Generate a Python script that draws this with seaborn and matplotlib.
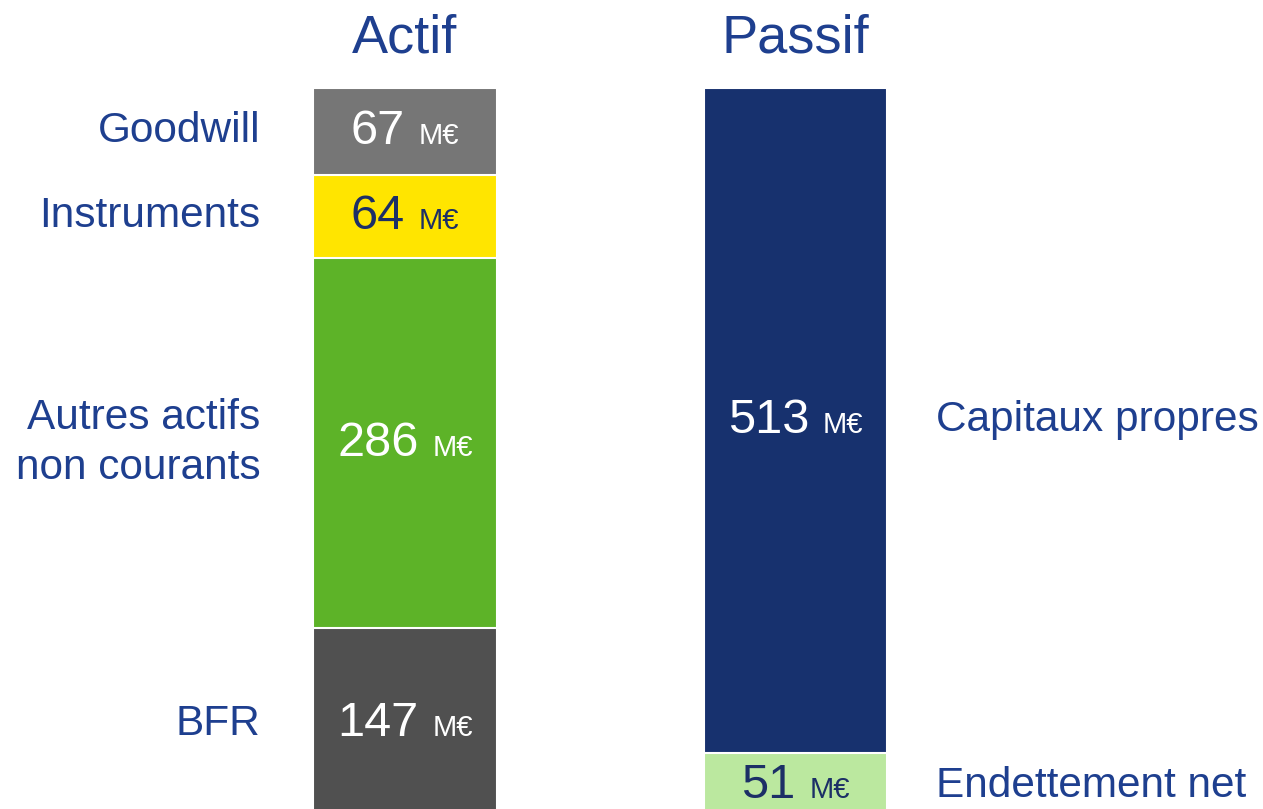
import numpy as np
import seaborn as sns
import matplotlib
matplotlib.use("Agg")
import matplotlib.pyplot as plt
from matplotlib.offsetbox import TextArea, HPacker, AnnotationBbox

# data: segments listed bottom -> top
actif_labels = ["BFR", "Autres actifs\nnon courants", "Instruments", "Goodwill"]
actif_values = [147, 286, 64, 67]
passif_labels = ["Endettement net", "Capitaux propres"]
passif_values = [51, 513]
columns = ["Actif", "Passif"]
unit = "M€"

actif_colors = ["#505050", "#5DB328", "#FFE500", "#767676"]
passif_colors = ["#BBE89F", "#17316E"]
actif_text = ["white", "white", "#1C2F66", "white"]
passif_text = ["#1C2F66", "white"]
label_blue = "#1E3F8F"

sns.set_theme(style="white")
plt.rcParams["font.family"] = ["Liberation Sans", "DejaVu Sans"]

fig = plt.figure(figsize=(12.63, 8.09), dpi=100)
ax = fig.add_axes([0, 0, 1, 1])

bar_w = 0.47

# stacked bars the seaborn way: draw cumulative totals, tallest first
def draw_stack(col, values, colors):
    tops = np.cumsum(values)
    for top, c in sorted(zip(tops, colors), key=lambda t: -t[0]):
        sns.barplot(x=[col], y=[top], order=columns, color=c, width=bar_w,
                    edgecolor="white", linewidth=1.5, saturation=1,
                    errorbar=None, ax=ax)
    return tops

a_tops = draw_stack("Actif", actif_values, actif_colors)
p_tops = draw_stack("Passif", passif_values, passif_colors)

ax.set_xlim(-1.037, 2.197)
ax.set_ylim(7.7, 631.9)
ax.axis("off")


def value_label(x, y, v, color):
    num = TextArea(str(v), textprops=dict(fontsize=35, color=color))
    u = TextArea(unit, textprops=dict(fontsize=21, color=color))
    box = HPacker(children=[num, u], align="baseline", pad=0, sep=10)
    ab = AnnotationBbox(box, (x, y), frameon=False, box_alignment=(0.5, 0.5),
                        pad=0)
    ax.add_artist(ab)


for i, (v, lab) in enumerate(zip(actif_values, actif_labels)):
    mid = a_tops[i] - v / 2
    value_label(0, mid, v, actif_text[i])
    ax.annotate(lab, (-bar_w / 2, mid), xytext=(-38, 0),
                textcoords="offset points", ha="right", va="center",
                fontsize=30.5, color=label_blue, linespacing=1.3)

for i, (v, lab) in enumerate(zip(passif_values, passif_labels)):
    mid = p_tops[i] - v / 2
    value_label(1, mid, v, passif_text[i])
    ax.annotate(lab, (1 + bar_w / 2, mid), xytext=(35, 0),
                textcoords="offset points", ha="left", va="center",
                fontsize=30.5, color=label_blue)

for i, col in enumerate(columns):
    ax.text(i, 0.9345, col, transform=ax.get_xaxis_transform(),
            ha="center", va="baseline", fontsize=39, color=label_blue)

fig.savefig("out.png", dpi=100)
